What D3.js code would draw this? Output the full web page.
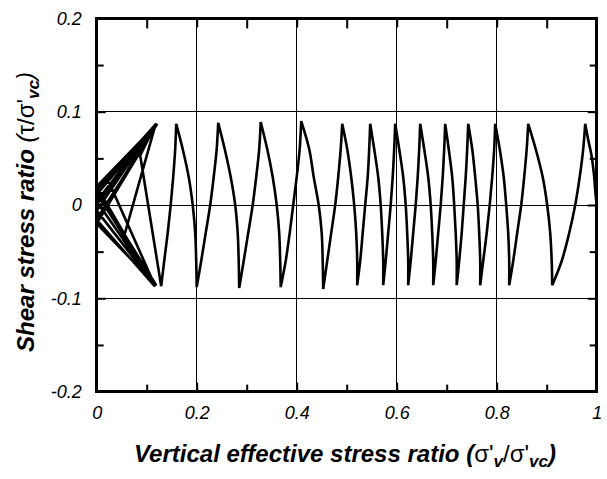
<!DOCTYPE html>
<html>
<head>
<meta charset="utf-8">
<script src="https://cdn.jsdelivr.net/npm/d3@7"></script>
<style>
  html, body { margin: 0; padding: 0; background: #fff; }
  svg { display: block; }
  text { font-family: "Liberation Sans", Arial, Helvetica, sans-serif; fill: #000; }
</style>
</head>
<body>
<svg id="chart" width="607" height="479"></svg>
<script>
// ---- axis ticks and labels ----
const xMajor = [0, 0.2, 0.4, 0.6, 0.8, 1];
const xLabels = ["0", "0.2", "0.4", "0.6", "0.8", "1"];
const xMinor = [0.1, 0.3, 0.5, 0.7, 0.9];
const xGrid = [0.2, 0.4, 0.6, 0.8];
const yMajor = [-0.2, -0.1, 0, 0.1, 0.2];
const yLabels = ["-0.2", "-0.1", "0", "0.1", "0.2"];
const yMinor = [-0.15, -0.05, 0.05, 0.15];
const yGrid = [-0.1, 0, 0.1];

// ---- stress path: first loading from the consolidated state ----
const firstLoadX   = [1.000, 0.997, 0.995, 0.990, 0.983];
const firstLoadTau = [0.000, 0.016, 0.030, 0.052, 0.070];

// ---- stress path: turning points of each cycle (peaks and troughs) ----
const turnX = [0.977, 0.911, 0.863, 0.825, 0.797, 0.767, 0.743, 0.720, 0.697, 0.673,
               0.647, 0.623, 0.597, 0.573, 0.547, 0.521, 0.491, 0.453, 0.409, 0.368,
               0.328, 0.285, 0.243, 0.200, 0.159, 0.129];
const turnTau = [0.087, -0.086, 0.087, -0.086, 0.087, -0.086, 0.087, -0.086, 0.087, -0.086,
                 0.087, -0.086, 0.087, -0.086, 0.087, -0.086, 0.087, -0.090, 0.090, -0.088,
                 0.089, -0.089, 0.088, -0.088, 0.087, -0.087];

// shear levels at which the branch positions are read
const tauDown = [0.06, 0.03, 0, -0.03, -0.06];   // unloading branch (peak -> trough)
const tauUp   = [-0.06, -0.03, 0, 0.03, 0.06];   // loading branch (trough -> peak)

// vertical effective stress ratio on each branch at those shear levels
const branchX = [
  [0.973, 0.966, 0.957, 0.945, 0.930],
  [0.910, 0.907, 0.901, 0.892, 0.878],
  [0.860, 0.855, 0.849, 0.841, 0.833],
  [0.825, 0.823, 0.819, 0.814, 0.806],
  [0.795, 0.791, 0.786, 0.780, 0.773],
  [0.767, 0.765, 0.762, 0.757, 0.751],
  [0.741, 0.738, 0.734, 0.730, 0.725],
  [0.720, 0.718, 0.715, 0.711, 0.704],
  [0.695, 0.692, 0.688, 0.683, 0.678],
  [0.673, 0.671, 0.668, 0.663, 0.655],
  [0.645, 0.642, 0.638, 0.633, 0.628],
  [0.623, 0.621, 0.618, 0.613, 0.605],
  [0.595, 0.592, 0.588, 0.583, 0.578],
  [0.573, 0.571, 0.568, 0.563, 0.555],
  [0.545, 0.542, 0.537, 0.532, 0.527],
  [0.521, 0.519, 0.515, 0.509, 0.501],
  [0.488, 0.483, 0.477, 0.469, 0.461],
  [0.452, 0.450, 0.444, 0.434, 0.425],
  [0.406, 0.400, 0.393, 0.386, 0.378],
  [0.367, 0.365, 0.360, 0.352, 0.341],
  [0.325, 0.319, 0.312, 0.303, 0.294],
  [0.284, 0.282, 0.277, 0.268, 0.256],
  [0.240, 0.234, 0.227, 0.218, 0.209],
  [0.199, 0.197, 0.192, 0.184, 0.172],
  [0.157, 0.153, 0.148, 0.142, 0.135]
];

// ---- stress path: cyclic mobility loops near zero effective stress ----
const clusterX   = [0.087, 0.118, 0.053, 0.117, 0.020, 0.121, 0.006, 0.118, 0.001, 0.119,
                    0.000, 0.116, 0.000, 0.121, 0.000, 0.119, 0.000, 0.117, 0.000, 0.118,
                    0.000, 0.120, 0.000];
const clusterTau = [0.053, 0.087, -0.037, -0.087, 0.030, 0.087, -0.010, -0.087, 0.012, 0.086,
                    -0.016, -0.087, 0.020, 0.087, -0.020, -0.086, 0.016, 0.086, -0.006, -0.087,
                    0.004, 0.087, 0.000];

// ---- layout ----
const svg = d3.select("#chart");
const x = d3.scaleLinear().domain([0, 1]).range([96.7, 596.7]);
const y = d3.scaleLinear().domain([-0.2, 0.2]).range([391.6, 18.4]);
const [x0, x1] = x.range();
const [yB, yT] = y.range();

// grid
const grid = svg.append("g").attr("stroke", "#000").attr("stroke-width", 1).attr("shape-rendering", "crispEdges");
grid.selectAll("line.v").data(xGrid).join("line").attr("class", "v")
  .attr("x1", d => x(d)).attr("x2", d => x(d)).attr("y1", yB).attr("y2", yT);
grid.selectAll("line.h").data(yGrid).join("line").attr("class", "h")
  .attr("x1", x0).attr("x2", x1).attr("y1", d => y(d)).attr("y2", d => y(d));

// inward ticks on all four sides
function tickAxis(axis, tr, width) {
  const g = svg.append("g").attr("transform", tr).call(axis);
  g.select(".domain").remove();
  g.selectAll(".tick line").attr("stroke", "#000").attr("stroke-width", width);
  g.selectAll(".tick text").remove();
  return g;
}
const xMajorInner = xMajor.filter(d => d > 0 && d < 1);
const yMajorInner = yMajor.filter(d => d > -0.2 && d < 0.2);
tickAxis(d3.axisBottom(x).tickValues(xMinor).tickSize(-7), `translate(0,${yB})`, 2);
tickAxis(d3.axisBottom(x).tickValues(xMajorInner).tickSize(-9), `translate(0,${yB})`, 2);
tickAxis(d3.axisTop(x).tickValues(xMinor).tickSize(-10), `translate(0,${yT})`, 2);
tickAxis(d3.axisTop(x).tickValues(xMajorInner).tickSize(-9), `translate(0,${yT})`, 2);
tickAxis(d3.axisLeft(y).tickValues(yMinor).tickSize(-7), `translate(${x0},0)`, 2);
tickAxis(d3.axisLeft(y).tickValues(yMajorInner).tickSize(-9), `translate(${x0},0)`, 2);
tickAxis(d3.axisRight(y).tickValues(yMinor).tickSize(-7), `translate(${x1},0)`, 2);
tickAxis(d3.axisRight(y).tickValues(yMajorInner).tickSize(-9), `translate(${x1},0)`, 2);

// tick labels
function labelAxis(axis, tr) {
  const g = svg.append("g").attr("transform", tr).call(axis);
  g.select(".domain").remove();
  g.selectAll(".tick line").remove();
  g.attr("font-family", null).attr("font-size", null);
  g.selectAll(".tick text")
    .style("font-family", '"Liberation Sans", Arial, sans-serif')
    .style("font-size", "18px").style("font-style", "italic").attr("fill", "#000");
  return g;
}
labelAxis(d3.axisBottom(x).tickValues(xMajor).tickFormat((d, i) => xLabels[i]).tickSize(0).tickPadding(15),
  `translate(0,${yB})`);
labelAxis(d3.axisLeft(y).tickValues(yMajor).tickFormat((d, i) => yLabels[i]).tickSize(0).tickPadding(15),
  `translate(${x0},0)`);

// stress path
const line = d3.line().x(d => x(d[0])).y(d => y(d[1]));
const smooth = d3.line().x(d => x(d[0])).y(d => y(d[1])).curve(d3.curveCatmullRom.alpha(0.5));

const firstPts = firstLoadX.map((v, i) => [v, firstLoadTau[i]]).concat([[turnX[0], turnTau[0]]]);
let pathD = smooth(firstPts);
branchX.forEach((xs, i) => {
  const levels = turnTau[i] > 0 ? tauDown : tauUp;
  const pts = [[turnX[i], turnTau[i]]]
    .concat(xs.map((v, k) => [v, levels[k]]))
    .concat([[turnX[i + 1], turnTau[i + 1]]]);
  pathD += smooth(pts).replace(/^M[^A-Za-z]*/, "");
});
const last = turnX.length - 1;
const clusterPts = [[turnX[last], turnTau[last]]].concat(clusterX.map((v, i) => [v, clusterTau[i]]));
pathD += "L" + line(clusterPts).slice(1);

svg.append("path").attr("d", pathD)
  .attr("fill", "none").attr("stroke", "#000").attr("stroke-width", 2.6)
  .attr("stroke-linejoin", "miter").attr("stroke-miterlimit", 4);

// frame
svg.append("rect").attr("x", x0).attr("y", yT).attr("width", x1 - x0).attr("height", yB - yT)
  .attr("fill", "none").attr("stroke", "#000").attr("stroke-width", 2.5).attr("shape-rendering", "crispEdges");

// axis titles
const yTitle = svg.append("text")
  .attr("transform", "translate(34,212) rotate(-90)")
  .attr("text-anchor", "middle").style("font-size", "24px");
yTitle.append("tspan").style("font-weight", "bold").style("font-style", "italic").text("Shear stress ratio ");
yTitle.append("tspan").style("font-style", "italic").text("(");
yTitle.append("tspan").text("τ/σ'");
yTitle.append("tspan").style("font-weight", "bold").style("font-style", "italic")
  .style("font-size", "17px").attr("dy", 5).text("vc");
yTitle.append("tspan").style("font-style", "italic").attr("dy", -5).text(")");

const xTitle = svg.append("text")
  .attr("x", 345).attr("y", 462)
  .attr("text-anchor", "middle").style("font-size", "24px");
xTitle.append("tspan").style("font-weight", "bold").style("font-style", "italic").text("Vertical effective stress ratio ");
xTitle.append("tspan").style("font-weight", "bold").style("font-style", "italic").text("(");
xTitle.append("tspan").text("σ'");
xTitle.append("tspan").style("font-weight", "bold").style("font-style", "italic")
  .style("font-size", "17px").attr("dy", 5).text("v");
xTitle.append("tspan").attr("dy", -5).text("/σ'");
xTitle.append("tspan").style("font-weight", "bold").style("font-style", "italic")
  .style("font-size", "17px").attr("dy", 5).text("vc");
xTitle.append("tspan").style("font-weight", "bold").style("font-style", "italic").attr("dy", -5).text(")");
</script>
</body>
</html>
